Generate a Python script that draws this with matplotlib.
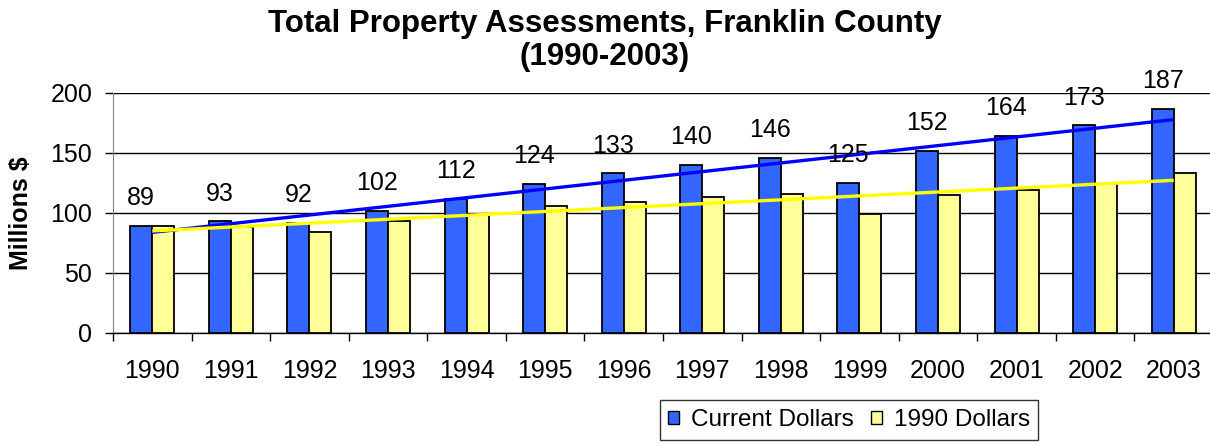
import matplotlib
matplotlib.use("Agg")
import matplotlib.pyplot as plt
import numpy as np
from matplotlib.patches import Patch

years = ["1990", "1991", "1992", "1993", "1994", "1995", "1996",
         "1997", "1998", "1999", "2000", "2001", "2002", "2003"]
current_dollars = [89, 93, 92, 102, 112, 124, 133, 140, 146, 125, 152, 164, 173, 187]
dollars_1990 = [89, 88, 84, 93, 98, 106, 109, 113, 116, 99, 115, 119, 124, 133]
y_ticks = [0, 50, 100, 150, 200]

plt.rcParams['font.family'] = ['Liberation Sans', 'DejaVu Sans']

W, H = 1210, 445
fig = plt.figure(figsize=(W / 100, H / 100), dpi=100)
ax = fig.add_axes([113 / W, (H - 333) / H, 1100 / W, 240 / H])

x = np.arange(len(years))
bw = 0.28
blue = '#3366FF'
yellow = '#FFFF99'
ax.bar(x - bw / 2, current_dollars, bw, color=blue, edgecolor='black', linewidth=1.3, zorder=3)
ax.bar(x + bw / 2, dollars_1990, bw, color=yellow, edgecolor='black', linewidth=1.3, zorder=3)

# linear trend lines
for vals, col in [(current_dollars, '#0000FF'), (dollars_1990, '#FFFF00')]:
    p = np.polyfit(x, vals, 1)
    ax.plot(x, np.polyval(p, x), color=col, linewidth=2.4, zorder=4, solid_capstyle='butt')

for xi, v in zip(x, current_dollars):
    ax.annotate(str(v), (xi - bw / 2, v), xytext=(0, 20), textcoords='offset points',
                ha='center', va='center', fontsize=18, zorder=5)

ax.set_xlim(-0.5, len(years) - 0.5)
ax.set_ylim(0, 200)
ax.set_yticks(y_ticks)
ax.set_yticklabels([str(t) for t in y_ticks])
ax.tick_params(axis='y', length=6, width=1, pad=9, labelsize=18, color='black')
ax.yaxis.grid(True, color='black', linewidth=1, zorder=0)

ax.set_xticks(np.arange(len(years) + 1) - 0.5)
ax.set_xticklabels([])
ax.tick_params(axis='x', which='major', length=6, width=1, color='black')
ax.set_xticks(x, minor=True)
ax.set_xticklabels(years, minor=True)
ax.tick_params(axis='x', which='minor', length=0, pad=19, labelsize=18)

for s in ['top', 'right']:
    ax.spines[s].set_visible(False)
ax.spines['left'].set_color('#808080')
ax.spines['bottom'].set_color('black')
ax.spines['bottom'].set_linewidth(1)

ax.set_ylabel('Millions $', fontsize=18, fontweight='bold')
ax.yaxis.set_label_coords(-0.0727, 0.5)

fig.text(0.5, 1 - 32 / H, 'Total Property Assessments, Franklin County',
         ha='center', va='baseline', fontsize=22.5, fontweight='bold')
fig.text(0.5, 1 - 65 / H, '(1990-2003)', ha='center', va='baseline', fontsize=22.5, fontweight='bold')

handles = [Patch(facecolor=blue, edgecolor='black', label='Current Dollars'),
           Patch(facecolor=yellow, edgecolor='black', label='1990 Dollars')]
leg = fig.legend(handles=handles, loc='center', bbox_to_anchor=(849 / W, 1 - 420 / H),
                 ncol=2, fontsize=17.5, frameon=True, fancybox=False, edgecolor='black',
                 handlelength=0.45, handleheight=0.45, handletextpad=0.5, columnspacing=0.68,
                 borderpad=0.35, borderaxespad=0)
leg.get_frame().set_linewidth(1)

fig.savefig('out.png', dpi=100)
